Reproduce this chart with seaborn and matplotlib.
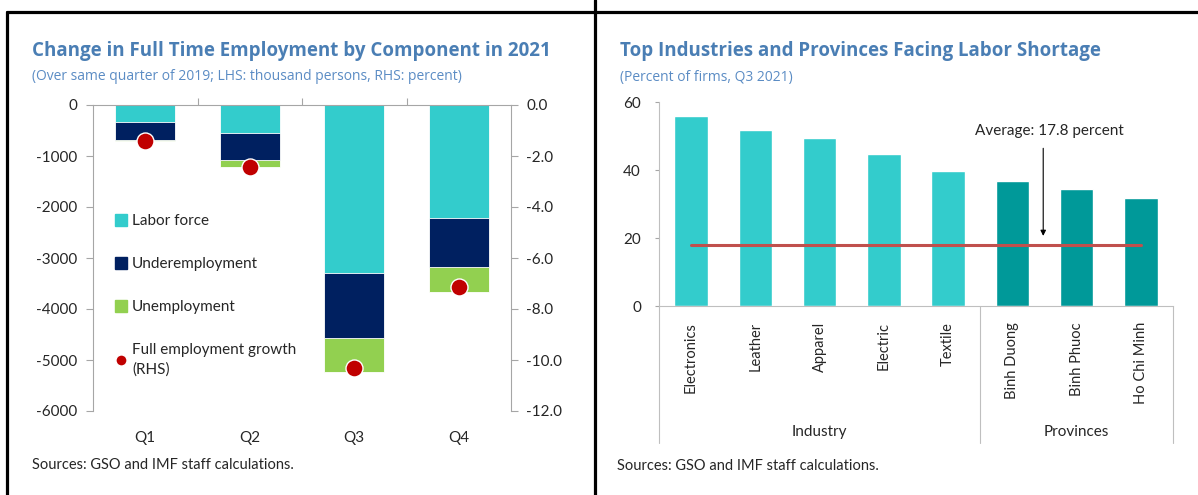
import numpy as np
import pandas as pd
import matplotlib
matplotlib.use("Agg")
import matplotlib.pyplot as plt
import seaborn as sns
from matplotlib.lines import Line2D
import matplotlib.transforms as mtransforms

# ---------------- data ----------------
quarters = ["Q1", "Q2", "Q3", "Q4"]
labor_force = [-325, -545, -3300, -2220]
underemployment = [-360, -540, -1275, -960]
unemployment = [-20, -135, -665, -485]
full_emp_growth = [-1.40, -2.42, -10.33, -7.15]
lhs_ticks = [0, -1000, -2000, -3000, -4000, -5000, -6000]
rhs_ticks = [0, -2, -4, -6, -8, -10, -12]

categories = ["Electronics", "Leather", "Apparel", "Electric", "Textile",
              "Binh Duong", "Binh Phuoc", "Ho Chi Minh"]
groups = ["Industry"] * 5 + ["Provinces"] * 3
shortage = [55.8, 51.9, 49.3, 44.6, 39.6, 36.9, 34.5, 31.9]
average = 17.8
rhs2_ticks = [0, 20, 40, 60]

# ---------------- style ----------------
sns.set_style("white")
plt.rcParams["font.family"] = ["Lato", "DejaVu Sans"]
plt.rcParams["axes.unicode_minus"] = False

C_LF = "#33CCCC"
C_UE = "#002060"
C_U = "#92D050"
C_DOT = "#C00000"
C_IND = "#33CCCC"
C_PROV = "#009999"
C_AVG = "#C0504D"
C_TITLE = "#4A7EB4"
C_SUB = "#5B8CC4"
GRAY = "#A6A6A6"

W, H = 1198, 495
fig = plt.figure(figsize=(W / 100, H / 100), dpi=100)

def fx(px):
    return px / W

def fy(py):
    return 1 - py / H

# ---------------- left chart ----------------
ax = fig.add_axes([fx(93), fy(411), fx(511) - fx(93), fy(105) - fy(411)])
cum1 = np.array(labor_force)
cum2 = cum1 + np.array(underemployment)
cum3 = cum2 + np.array(unemployment)
bw = 0.57
for vals, col in [(cum3, C_U), (cum2, C_UE), (cum1, C_LF)]:
    sns.barplot(x=quarters, y=vals, color=col, width=bw, saturation=1,
                edgecolor="white", linewidth=0.6, ax=ax)
ax.set_ylim(-6000, 0)
ax.set_xlim(-0.5, 3.5)
ax.set_yticks(lhs_ticks)
ax.set_yticklabels([str(v) for v in lhs_ticks])
ax.set_xlabel("")
ax.set_ylabel("")

ax2 = ax.twinx()
sns.scatterplot(x=quarters, y=full_emp_growth, color=C_DOT, s=150,
                edgecolor="white", linewidth=1.0, zorder=5, ax=ax2, legend=False)
ax2.set_ylim(-12, 0)
ax2.set_yticks(rhs_ticks)
ax2.set_yticklabels([f"{v:.1f}" for v in rhs_ticks])
ax2.set_xlim(-0.5, 3.5)
ax2.set_ylabel("")

for sp in ["bottom", "right"]:
    ax.spines[sp].set_visible(False)
for sp in ["top", "left"]:
    ax.spines[sp].set_color(GRAY)
    ax.spines[sp].set_linewidth(0.8)
for sp in ["bottom", "left", "top"]:
    ax2.spines[sp].set_visible(False)
ax2.spines["right"].set_color(GRAY)
ax2.spines["right"].set_linewidth(0.8)

ax.set_xticks(range(len(quarters)))
ax.set_xticklabels(quarters)
ax.set_xticks([0.5, 1.5, 2.5], minor=True)
ax.tick_params(axis="x", which="major", bottom=False, top=False,
               labelbottom=True, labelsize=11, pad=11)
ax.tick_params(axis="x", which="minor", bottom=False, top=True,
               direction="out", length=5, color=GRAY, width=0.8)
ax.tick_params(axis="y", left=True, direction="out", length=5, color=GRAY,
               width=0.8, labelsize=11, pad=6)
ax2.tick_params(axis="y", right=True, direction="out", length=5, color=GRAY,
                width=0.8, labelsize=11, pad=6)

handles = [
    Line2D([0], [0], marker="s", linestyle="", markersize=8, color=C_LF),
    Line2D([0], [0], marker="s", linestyle="", markersize=8, color=C_UE),
    Line2D([0], [0], marker="s", linestyle="", markersize=8, color=C_U),
    Line2D([0], [0], marker="o", linestyle="", markersize=8, color=C_DOT,
           markeredgecolor="white"),
]
labels = ["Labor force", "Underemployment", "Unemployment",
          "Full employment growth\n(RHS)"]
leg = ax2.legend(handles, labels, loc="upper left",
                 bbox_to_anchor=(0.035, 0.668), frameon=False, fontsize=11,
                 labelspacing=1.9, handlelength=0.8, handletextpad=0.3,
                 borderpad=0)
leg.get_texts()[3].set_linespacing(1.45)

# ---------------- right chart ----------------
bx = fig.add_axes([fx(659), fy(306), fx(1173) - fx(659), fy(102) - fy(306)])
df = pd.DataFrame({"category": categories, "group": groups, "value": shortage})
sns.barplot(data=df, x="category", y="value", hue="group",
            palette={"Industry": C_IND, "Provinces": C_PROV}, dodge=False,
            width=0.52, saturation=1, legend=False, ax=bx)
avg_df = pd.DataFrame({"category": categories,
                       "avg": [average] * len(categories)})
sns.lineplot(data=avg_df, x="category", y="avg", color=C_AVG, linewidth=2.2,
             sort=False, ax=bx)
bx.set_ylim(0, 60)
bx.set_xlim(-0.5, len(categories) - 0.5)
bx.set_yticks(rhs2_ticks)
bx.set_xlabel("")
bx.set_ylabel("")
bx.tick_params(axis="x", bottom=False, labelrotation=90, labelsize=10.5, pad=8)
bx.tick_params(axis="y", left=True, direction="out", length=3, color=GRAY,
               width=0.8, labelsize=11, pad=10)
for sp in ["top", "right"]:
    bx.spines[sp].set_visible(False)
for sp in ["left", "bottom"]:
    bx.spines[sp].set_color("#BFBFBF")
    bx.spines[sp].set_linewidth(0.8)

arrow_x = 5.48
bx.annotate("", xy=(arrow_x, 19.8), xytext=(arrow_x, 47.2),
            arrowprops=dict(arrowstyle="-|>", color="black", lw=0.8,
                            mutation_scale=8))
bx.text(5.57, 51.5, f"Average: {average} percent", ha="center", va="center",
        fontsize=11)

trans = mtransforms.blended_transform_factory(bx.transData, bx.transAxes)
sep_bottom = -0.672
for xs in [-0.5, 4.5, 7.5]:
    bx.add_line(Line2D([xs, xs], [0, sep_bottom], transform=trans,
                       color="#BFBFBF", linewidth=0.8, clip_on=False))
bx.text(2.0, -0.618, "Industry", transform=trans, ha="center", va="center",
        fontsize=11)
bx.text(6.0, -0.618, "Provinces", transform=trans, ha="center", va="center",
        fontsize=11)

# ---------------- titles & notes ----------------
title_font = ["Open Sans", "DejaVu Sans"]
fig.text(fx(32), fy(51), "Change in Full Time Employment by Component in 2021",
         ha="left", va="center", fontsize=13.5, fontweight="bold",
         color=C_TITLE, family=title_font)
fig.text(fx(32), fy(77),
         "(Over same quarter of 2019; LHS: thousand persons, RHS: percent)",
         ha="left", va="center", fontsize=10, color=C_SUB, family=title_font)
fig.text(fx(620), fy(51), "Top Industries and Provinces Facing Labor Shortage",
         ha="left", va="center", fontsize=13.5, fontweight="bold",
         color=C_TITLE, family=title_font)
fig.text(fx(620), fy(77), "(Percent of firms, Q3 2021)",
         ha="left", va="center", fontsize=10, color=C_SUB, family=title_font)
fig.text(fx(32), fy(465), "Sources: GSO and IMF staff calculations.",
         ha="left", va="center", fontsize=10.5)
fig.text(fx(617), fy(466), "Sources: GSO and IMF staff calculations.",
         ha="left", va="center", fontsize=10.5)

# ---------------- panel borders ----------------
blw = 2.3
fig.add_artist(Line2D([fx(7), 1.0], [fy(12), fy(12)], color="black",
                      linewidth=blw, transform=fig.transFigure))
fig.add_artist(Line2D([fx(7), fx(7)], [0, fy(12)], color="black",
                      linewidth=blw, transform=fig.transFigure))
fig.add_artist(Line2D([fx(595), fx(595)], [0, 1.0], color="black",
                      linewidth=blw, transform=fig.transFigure))

fig.savefig("out.png", dpi=100)
